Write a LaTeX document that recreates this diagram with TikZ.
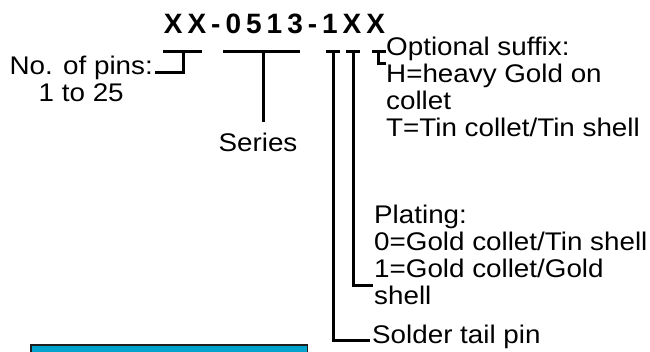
\documentclass[tikz,border=0pt]{standalone}
\usepackage{fontspec}
\setmainfont{Liberation Sans}[FakeStretch=1.09]
\newfontfamily\titlefont{Liberation Sans}[FakeStretch=1.0]
\definecolor{boxcyan}{RGB}{0,163,204}
\definecolor{boxedge}{RGB}{30,30,30}
\begin{document}
\begin{tikzpicture}[x=1pt,y=-1pt,
  lbl/.style={inner sep=0pt,font=\fontsize{25.5}{27}\selectfont,align=left},
  bar/.style={line width=3pt},
  ttl/.style={inner sep=0pt,font=\titlefont\bfseries\fontsize{28}{30}\selectfont}]
\useasboundingbox (0,0) rectangle (650,351);
\fill[white] (0,0) rectangle (650,351);
% title
\node[ttl,anchor=base] (title) at (274.5,33) {X\kern5pt X\kern5pt -\kern5pt 0\kern5pt 5\kern5pt 1\kern5pt 3\kern5pt -\kern5pt 1\kern5pt X\kern5pt X};
% labels
\node[lbl,align=center,anchor=north east] (pins) at (153,56) {No. of pins:\\1 to 25};
\node[lbl,anchor=north] (series) at (258,133) {Series};
\node[lbl,anchor=north west] (suffix) at (386,37) {Optional suffix:\\H=heavy Gold on\\collet\\T=Tin collet/Tin shell};
\node[lbl,anchor=north west] (plating) at (374,205) {Plating:\\0=Gold collet/Tin shell\\1=Gold collet/Gold\\shell};
\node[lbl,anchor=north west] (solder) at (372,325) {Solder tail pin};
% coordinates
\coordinate (p1) at (163,51); \coordinate (p2) at (202,51);
\coordinate (pm) at (183,51); \coordinate (pb) at (183,72); \coordinate (pe) at (155,72);
\coordinate (s1) at (223,51); \coordinate (s2) at (300,51);
\coordinate (sm) at (263,51); \coordinate (sb) at (263,122);
\coordinate (t1) at (326,51); \coordinate (t2) at (340,51);
\coordinate (tm) at (333,51); \coordinate (tb) at (333,340); \coordinate (te) at (370,340);
\coordinate (g1) at (346,51); \coordinate (g2) at (360,51);
\coordinate (gm) at (353,51); \coordinate (gb) at (353,285); \coordinate (ge) at (373,285);
\coordinate (o1) at (372,51); \coordinate (o2) at (386,51);
\coordinate (om) at (378,51); \coordinate (ob) at (378,63); \coordinate (oe) at (386,63);
% bars
\draw[bar] (p1) -- (p2); \draw[bar] (pm) -- (pb) -- (pe);
\draw[bar] (s1) -- (s2); \draw[bar] (sm) -- (sb);
\draw[bar] (t1) -- (t2); \draw[bar] (tm) -- (tb) -- (te);
\draw[bar] (g1) -- (g2); \draw[bar] (gm) -- (gb) -- (ge);
\draw[bar] (o1) -- (o2); \draw[bar] (om) -- (ob) -- (oe);
% cyan box (cut off at bottom)
\draw[fill=boxcyan,draw=boxedge,line width=1.5pt] (30.75,344.75) rectangle (307.25,380);
\end{tikzpicture}
\end{document}
